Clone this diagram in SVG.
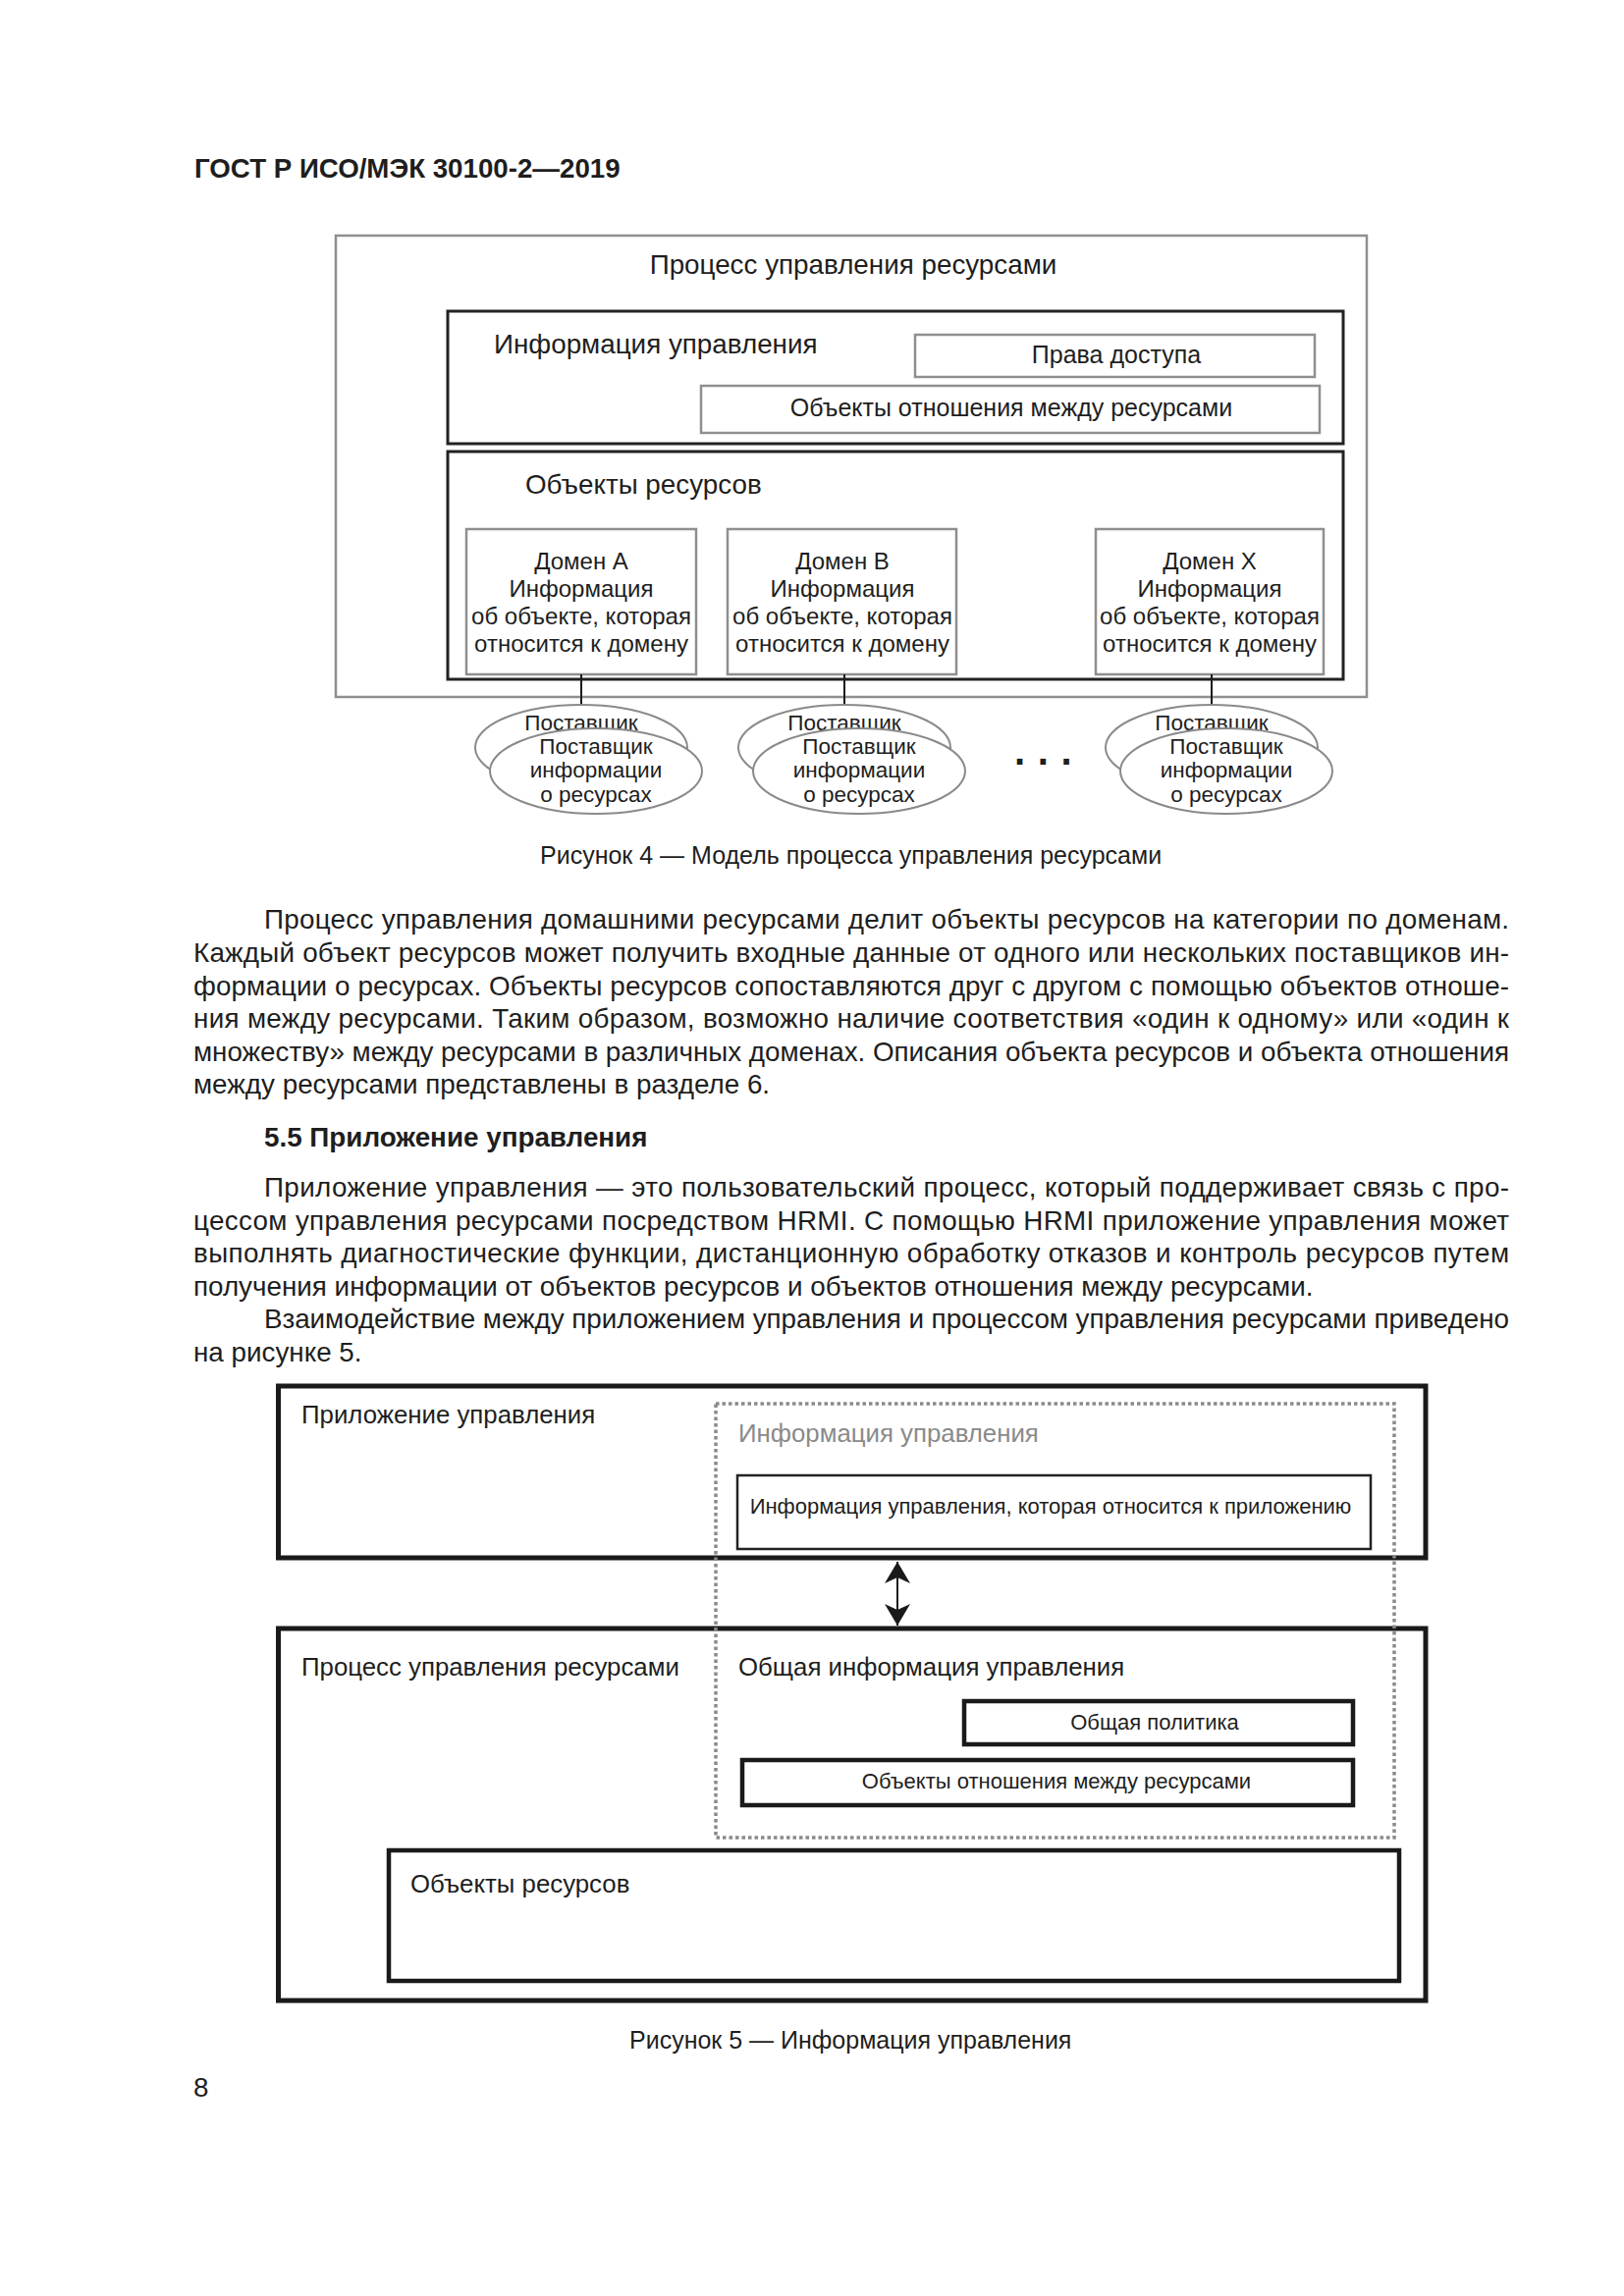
<svg xmlns="http://www.w3.org/2000/svg" width="1654" height="2339" viewBox="0 0 1654 2339">
<defs>
<style>
text{font-family:"Liberation Sans",Arial,sans-serif;fill:#1e1e1e}
.hdr{font-size:27.7px;font-weight:bold}
.body{font-size:27.8px}
.h2{font-size:27.8px;font-weight:bold}
.cap{font-size:25px}
.f4{font-size:27.8px}
.f4s{font-size:25px}
.dom{font-size:24px}
.ell{font-size:22.5px}
.f5{font-size:25.8px}
.f5s{font-size:22px}
.mid{text-anchor:middle}
.gray{fill:#8a8a8a}
.gbox{fill:#fff;stroke:#8f8f8f;stroke-width:2.5}
.dbox{fill:#fff;stroke:#222;stroke-width:3}
.kbox{fill:none;stroke:#1a1a1a;stroke-width:5}
.kbox2{fill:#fff;stroke:#1a1a1a;stroke-width:4.5}
.tbox{fill:#fff;stroke:#222;stroke-width:2.5}
.ellb{fill:#fff;stroke:#8a8a8a;stroke-width:2}
.conn{stroke:#1a1a1a;stroke-width:2;fill:none}
.dots{fill:none;stroke:#8a8a8a;stroke-width:3.5;stroke-dasharray:3.5 3}
</style>
<marker id="ah" viewBox="0 0 22 26" refX="22" refY="13" markerWidth="22" markerHeight="26" markerUnits="userSpaceOnUse" orient="auto-start-reverse">
<path d="M0,0 L22,13 L0,26 L6,13 Z" fill="#1a1a1a"/>
</marker>
</defs>
<rect width="1654" height="2339" fill="#fff"/>

<text class="hdr" x="198" y="181">ГОСТ Р ИСО/МЭК 30100-2—2019</text>

<!-- Figure 4 -->
<g id="fig4-process">
<rect class="gbox" x="342" y="240" width="1050" height="470"/>
<text class="f4 mid" x="869" y="279">Процесс управления ресурсами</text>
</g>
<g id="fig4-mgmt-info">
<rect class="dbox" x="456" y="317" width="912" height="135"/>
<text class="f4" x="503" y="360">Информация управления</text>
</g>
<g id="fig4-access-rights">
<rect class="gbox" x="932" y="341" width="407" height="43"/>
<text class="f4s mid" x="1137" y="370">Права доступа</text>
</g>
<g id="fig4-relation-objects">
<rect class="gbox" x="714" y="393" width="630" height="48"/>
<text class="f4s mid" x="1030" y="424">Объекты отношения между ресурсами</text>
</g>
<g id="fig4-resource-objects">
<rect class="dbox" x="456" y="460" width="912" height="232"/>
<text class="f4" x="535" y="503">Объекты ресурсов</text>
</g>
<g id="fig4-domain-a">
<rect class="gbox" x="475" y="539" width="234" height="148"/>
<text class="dom mid" x="592" y="580">Домен A</text>
<text class="dom mid" x="592" y="608">Информация</text>
<text class="dom mid" x="592" y="636">об объекте, которая</text>
<text class="dom mid" x="592" y="664">относится к домену</text>
</g>
<g id="fig4-domain-b">
<rect class="gbox" x="741" y="539" width="233" height="148"/>
<text class="dom mid" x="858" y="580">Домен B</text>
<text class="dom mid" x="858" y="608">Информация</text>
<text class="dom mid" x="858" y="636">об объекте, которая</text>
<text class="dom mid" x="858" y="664">относится к домену</text>
</g>
<g id="fig4-domain-x">
<rect class="gbox" x="1116" y="539" width="232" height="148"/>
<text class="dom mid" x="1232" y="580">Домен X</text>
<text class="dom mid" x="1232" y="608">Информация</text>
<text class="dom mid" x="1232" y="636">об объекте, которая</text>
<text class="dom mid" x="1232" y="664">относится к домену</text>
</g>

<g id="fig4-connectors">
<line class="conn" x1="592" y1="687" x2="592" y2="718"/>
<line class="conn" x1="860" y1="687" x2="860" y2="718"/>
<line class="conn" x1="1234" y1="687" x2="1234" y2="718"/>
</g>

<g id="fig4-provider-a">
<ellipse class="ellb" cx="592" cy="761.5" rx="108" ry="43.5"/>
<text class="ell mid" x="592" y="744">Поставщик</text>
<ellipse class="ellb" cx="607" cy="785.5" rx="108" ry="43.5"/>
<text class="ell mid" x="607" y="768">Поставщик</text>
<text class="ell mid" x="607" y="792">информации</text>
<text class="ell mid" x="607" y="817">о ресурсах</text>
</g>
<g id="fig4-provider-b">
<ellipse class="ellb" cx="860" cy="761.5" rx="108" ry="43.5"/>
<text class="ell mid" x="860" y="744">Поставщик</text>
<ellipse class="ellb" cx="875" cy="785.5" rx="108" ry="43.5"/>
<text class="ell mid" x="875" y="768">Поставщик</text>
<text class="ell mid" x="875" y="792">информации</text>
<text class="ell mid" x="875" y="817">о ресурсах</text>
</g>
<g id="fig4-provider-x">
<ellipse class="ellb" cx="1234" cy="761.5" rx="108" ry="43.5"/>
<text class="ell mid" x="1234" y="744">Поставщик</text>
<ellipse class="ellb" cx="1249" cy="785.5" rx="108" ry="43.5"/>
<text class="ell mid" x="1249" y="768">Поставщик</text>
<text class="ell mid" x="1249" y="792">информации</text>
<text class="ell mid" x="1249" y="817">о ресурсах</text>
</g>
<text x="1033" y="779" style="font-size:40px;font-weight:bold;letter-spacing:12.6px">...</text>

<text class="cap" x="550" y="880">Рисунок 4 — Модель процесса управления ресурсами</text>

<!-- Paragraph 1 -->
<text class="body" x="269" y="946" textLength="1268" lengthAdjust="spacing">Процесс управления домашними ресурсами делит объекты ресурсов на категории по доменам.</text>
<text class="body" x="197" y="980" textLength="1340" lengthAdjust="spacing">Каждый объект ресурсов может получить входные данные от одного или нескольких поставщиков ин-</text>
<text class="body" x="197" y="1013.5" textLength="1340" lengthAdjust="spacing">формации о ресурсах. Объекты ресурсов сопоставляются друг с другом с помощью объектов отноше-</text>
<text class="body" x="197" y="1047" textLength="1340" lengthAdjust="spacing">ния между ресурсами. Таким образом, возможно наличие соответствия «один к одному» или «один к</text>
<text class="body" x="197" y="1080.5" textLength="1340" lengthAdjust="spacing">множеству» между ресурсами в различных доменах. Описания объекта ресурсов и объекта отношения</text>
<text class="body" x="197" y="1114">между ресурсами представлены в разделе 6.</text>

<text class="h2" x="269" y="1168">5.5  Приложение управления</text>

<text class="body" x="269" y="1219" textLength="1268" lengthAdjust="spacing">Приложение управления — это пользовательский процесс, который поддерживает связь с про-</text>
<text class="body" x="197" y="1252.5" textLength="1340" lengthAdjust="spacing">цессом управления ресурсами посредством HRMI. С помощью HRMI приложение управления может</text>
<text class="body" x="197" y="1286" textLength="1340" lengthAdjust="spacing">выполнять диагностические функции, дистанционную обработку отказов и контроль ресурсов путем</text>
<text class="body" x="197" y="1319.5">получения информации от объектов ресурсов и объектов отношения между ресурсами.</text>
<text class="body" x="269" y="1353" textLength="1268" lengthAdjust="spacing">Взаимодействие между приложением управления и процессом управления ресурсами приведено</text>
<text class="body" x="197" y="1386.5">на рисунке 5.</text>

<!-- Figure 5 -->
<g id="fig5-app">
<rect class="kbox" x="283.5" y="1412" width="1168.5" height="175"/>
<text class="f5" x="307" y="1450">Приложение управления</text>
</g>
<g id="fig5-process">
<rect class="kbox" x="283.5" y="1659" width="1168.5" height="379"/>
<text class="f5" x="307" y="1707">Процесс управления ресурсами</text>
</g>
<g id="fig5-mgmt-info">
<rect class="dots" x="729" y="1430" width="691" height="442"/>
<text class="f5 gray" x="752" y="1469">Информация управления</text>
<text class="f5" x="752" y="1707">Общая информация управления</text>
</g>
<g id="fig5-app-info">
<rect class="tbox" x="751" y="1503" width="645" height="75"/>
<text class="f5s mid" x="1070" y="1542">Информация управления, которая относится к приложению</text>
</g>
<g id="fig5-policy">
<rect class="kbox2" x="982" y="1733" width="396" height="44"/>
<text class="f5s mid" x="1176" y="1762">Общая политика</text>
</g>
<g id="fig5-relation-objects">
<rect class="kbox2" x="756" y="1793" width="622" height="46"/>
<text class="f5s mid" x="1076" y="1822">Объекты отношения между ресурсами</text>
</g>
<g id="fig5-resource-objects">
<rect class="kbox2" x="396" y="1885" width="1029" height="133"/>
<text class="f5" x="418" y="1928">Объекты ресурсов</text>
</g>
<g id="fig5-connectors">
<line class="conn" x1="914" y1="1591" x2="914" y2="1656" marker-start="url(#ah)" marker-end="url(#ah)"/>
</g>

<text class="cap" x="641" y="2087">Рисунок 5 — Информация управления</text>
<text class="body" x="197" y="2136">8</text>
</svg>
